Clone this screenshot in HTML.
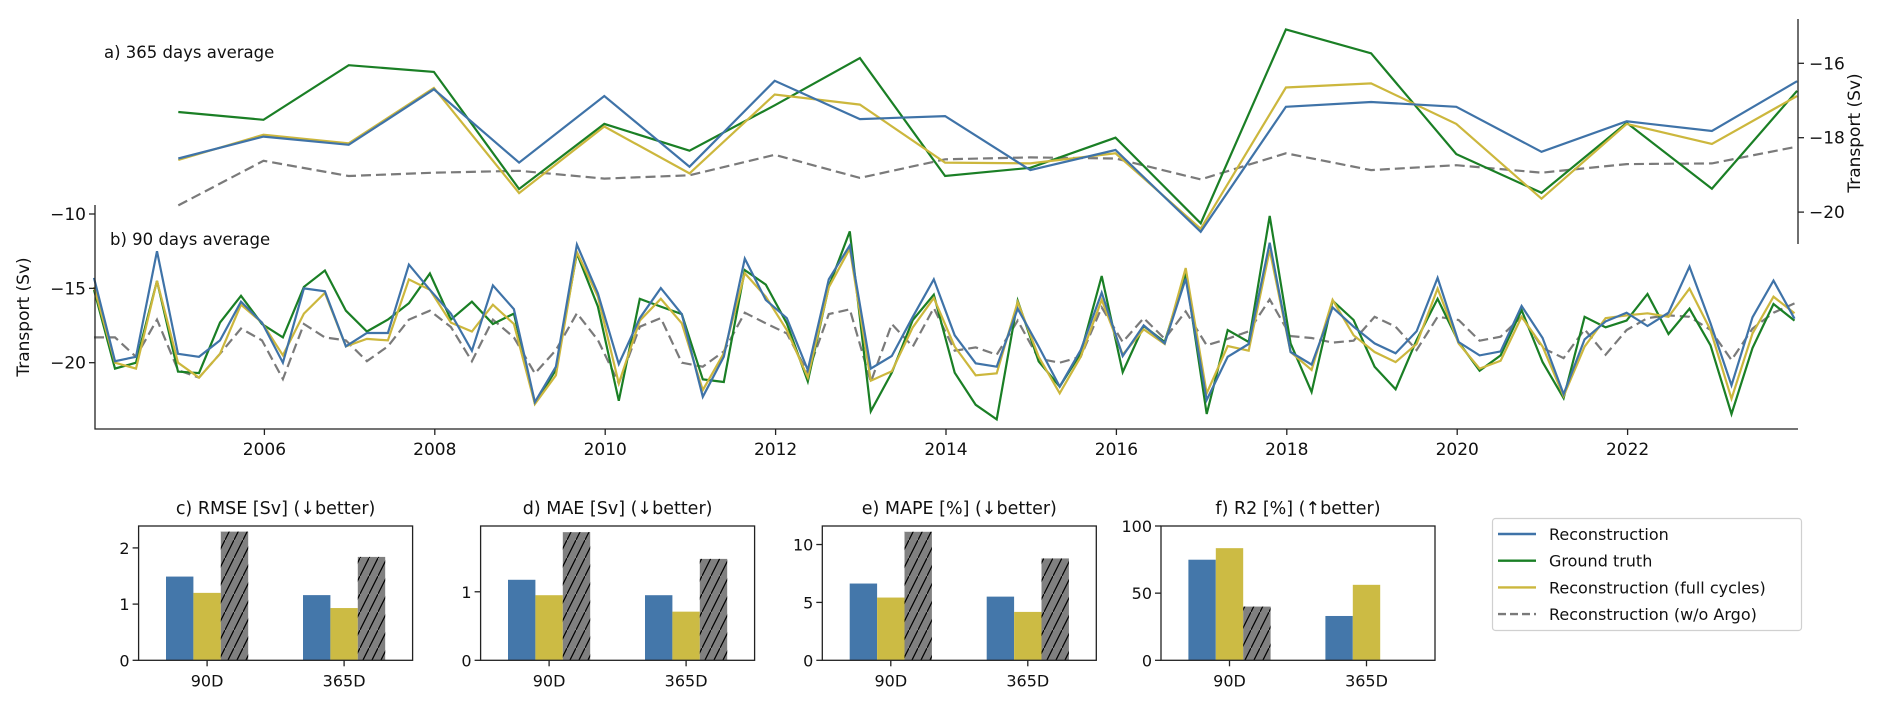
<!DOCTYPE html>
<html><head><meta charset="utf-8">
<style>
html,body{margin:0;padding:0;background:#fff;}
svg{display:block;font-family:"DejaVu Sans","Liberation Sans",sans-serif;}
</style></head>
<body>
<svg id="fig" width="1892" height="706" viewBox="0 0 1892 706" xmlns="http://www.w3.org/2000/svg">
<defs>
<pattern id="hatch" patternUnits="userSpaceOnUse" width="9" height="18">
<line x1="-1" y1="20" x2="10" y2="-2" stroke="#000" stroke-width="1.2"/>
</pattern>
</defs>
<g id="topPanel"></g>
<g id="bottomPanel"></g>
<g id="barsPanel"></g>
<g id="legendBox"></g>
</svg>
<script>
// ---- annual (365 day) series ----
const annualStart = 2004.99;
const annualGreen = [-17.31,-17.52,-16.05,-16.23,-19.38,-17.63,-18.35,-17.13,-15.86,-19.03,-18.81,-18.0,-20.3,-15.09,-15.73,-18.44,-19.48,-17.60,-19.37,-16.74];
const annualBlue = [-18.56,-17.97,-18.19,-16.70,-18.67,-16.88,-18.78,-16.47,-17.5,-17.42,-18.87,-18.33,-20.53,-17.17,-17.04,-17.17,-18.38,-17.56,-17.82,-16.48];
const annualYellow = [-18.60,-17.92,-18.15,-16.66,-19.49,-17.70,-18.96,-16.84,-17.11,-18.67,-18.69,-18.42,-20.45,-16.65,-16.54,-17.63,-19.64,-17.63,-18.17,-16.88];
const annualGray = [-19.82,-18.62,-19.03,-18.94,-18.89,-19.10,-19.01,-18.46,-19.08,-18.58,-18.53,-18.56,-19.12,-18.42,-18.87,-18.74,-18.94,-18.71,-18.69,-18.24];
const rightTicks = [-16,-18,-20];

// ---- 90 day series ----
const qStart = 2004.0;
const qStepDays = 90;
const qBlue = [-14.3,-19.9,-19.6,-12.5,-19.4,-19.6,-18.5,-15.9,-17.3,-20.0,-15.0,-15.2,-18.9,-18.0,-18.0,-13.4,-15.1,-16.7,-19.2,-14.8,-16.4,
-22.65,-20.27,-12.06,-15.34,-20.09,-17.0,-14.98,-16.73,-22.29,-19.6,-13.0,-15.78,-17.0,-20.49,-14.39,-12.11,-20.4,-19.55,-16.91,-14.39,
-18.16,-20.04,-20.27,-16.37,-18.92,-21.61,-19.15,-15.29,-19.55,-17.49,-18.70,-14.35,-22.51,-19.60,-18.74,-11.93,-19.28,-20.13,-16.28,-17.58,-18.70,
-19.37,-17.89,-14.30,-18.61,-19.51,-19.24,-16.19,-18.34,-22.11,-18.43,-17.22,-16.64,-17.53,-16.64,-13.54,-17.35,-21.52,-16.95,-14.48,-17.04];
const qGreen = [-15.1,-20.4,-20.0,-14.5,-20.6,-20.7,-17.3,-15.5,-17.4,-18.3,-14.9,-13.8,-16.5,-17.9,-17.1,-16.0,-14.0,-17.1,-15.9,-17.4,-16.7,
-22.74,-20.49,-12.65,-16.23,-22.56,-15.70,-16.23,-16.73,-21.12,-21.30,-13.77,-14.75,-17.35,-21.26,-14.89,-11.17,-23.27,-20.67,-17.13,-15.43,
-20.67,-22.83,-23.81,-15.83,-19.91,-21.61,-19.37,-14.17,-20.63,-17.53,-18.61,-13.99,-23.45,-17.80,-18.61,-10.13,-18.70,-21.97,-15.83,-17.13,-20.27,
-21.79,-18.48,-15.70,-18.61,-20.54,-19.51,-16.46,-19.96,-22.38,-16.91,-17.62,-17.17,-15.38,-18.07,-16.37,-18.83,-23.45,-19.01,-16.05,-17.17];
const qYellow = [-14.9,-20.0,-20.4,-14.5,-20.0,-21.0,-19.4,-16.1,-17.3,-19.5,-16.7,-15.3,-18.9,-18.4,-18.5,-14.4,-15.1,-17.3,-17.9,-16.1,-17.4,
-22.78,-20.85,-12.56,-15.56,-21.39,-17.17,-15.70,-17.35,-21.84,-19.37,-13.99,-15.56,-17.80,-20.99,-14.93,-12.33,-21.21,-20.58,-17.62,-15.65,
-18.92,-20.85,-20.72,-15.92,-19.60,-22.06,-19.60,-15.78,-19.46,-17.76,-18.74,-13.63,-22.06,-18.88,-19.19,-12.42,-19.28,-20.49,-15.78,-18.16,-19.28,
-19.96,-18.74,-15.02,-18.70,-20.40,-19.87,-16.91,-18.92,-22.24,-18.92,-17.0,-16.82,-16.68,-16.91,-15.02,-17.80,-22.42,-18.03,-15.56,-16.68];
const qGray = [-18.3,-18.3,-19.6,-17.1,-20.5,-21.0,-19.4,-17.7,-18.5,-21.1,-17.4,-18.3,-18.5,-19.9,-18.9,-17.1,-16.5,-17.6,-19.9,-17.1,-18.3,
-20.72,-19.15,-16.68,-18.48,-21.39,-17.58,-17.0,-20.0,-20.27,-19.24,-16.64,-17.35,-18.03,-20.67,-16.73,-16.41,-21.30,-17.40,-18.92,-16.32,
-19.19,-18.97,-19.46,-17.17,-19.73,-20.0,-19.60,-16.28,-18.61,-17.0,-18.39,-16.55,-18.83,-18.39,-17.89,-15.74,-18.21,-18.34,-18.65,-18.52,-16.91,
-17.58,-19.15,-16.91,-17.13,-18.52,-18.25,-16.91,-19.01,-19.69,-17.76,-19.46,-17.80,-17.0,-16.82,-16.91,-17.80,-19.82,-17.71,-16.64,-16.01];
const leftTicks = [-10,-15,-20];
const yearTicks = [2006,2008,2010,2012,2014,2016,2018,2020,2022];

// ---- metric bars ----
const barGroups = ["90D","365D"];
const rmseVals = {blue:[1.49,1.16], yellow:[1.20,0.93], gray:[2.29,1.84]};
const maeVals = {blue:[1.175,0.95], yellow:[0.95,0.71], gray:[1.87,1.48]};
const mapeVals = {blue:[6.63,5.5], yellow:[5.42,4.18], gray:[11.1,8.8]};
const r2Vals = {blue:[74.9,33.0], yellow:[83.5,56.2], gray:[40.0,0]};
const panelTitles = ["c) RMSE [Sv] (\u2193better)","d) MAE [Sv] (\u2193better)","e) MAPE [%] (\u2193better)","f) R2 [%] (\u2191better)"];
const panelYMax = [2.39,1.96,11.6,100];
const panelTicks = [[0,1,2],[0,1],[0,5,10],[0,50,100]];
const legendLabels = ["Reconstruction","Ground truth","Reconstruction (full cycles)","Reconstruction (w/o Argo)"];

const NS="http://www.w3.org/2000/svg";
function mk(tag, attrs, parent){const e=document.createElementNS(NS,tag);for(const k in attrs)e.setAttribute(k,attrs[k]);parent.appendChild(e);return e;}
const C={blue:"#3f73a8",green:"#1a7f25",yellow:"#ccb73d",gray:"#7a7a7a"};
const BC={blue:"#4477aa",yellow:"#ccbb44",gray:"#808080"};

const X0=94, X1=1798, T0=2004, T1=2024;
function xT(t){return X0+(t-T0)*(X1-X0)/(T1-T0);}
function yTop(v){return 63.3+(-16-v)*37.2;}
function yBot(v){return 214+(-10-v)*14.87;}

function drawLine(parent, vals, tfn, yfn, color, dashed, name){
  const pts=vals.map((v,i)=>xT(tfn(i)).toFixed(1)+","+yfn(v).toFixed(1)).join(" ");
  const p=mk('polyline',{points:pts,fill:'none',stroke:color,'stroke-width':2.2,'stroke-linejoin':'miter'},parent);
  if(dashed){p.setAttribute('stroke-dasharray','10,5');}
  
  
}

// ---- top panel ----
const topG=document.getElementById('topPanel');
const tA=i=>annualStart+i;
drawLine(topG,annualGray,tA,yTop,C.gray,true,'annual-reconstruction-wo-argo-line');
drawLine(topG,annualGreen,tA,yTop,C.green,false,'annual-ground-truth-line');
drawLine(topG,annualYellow,tA,yTop,C.yellow,false,'annual-reconstruction-full-cycles-line');
drawLine(topG,annualBlue,tA,yTop,C.blue,false,'annual-reconstruction-line');
let el=mk('line',{x1:1798,y1:19,x2:1798,y2:244,stroke:'#222','stroke-width':1.3},topG);


rightTicks.forEach(v=>{
  const y=yTop(v);
  mk('line',{x1:1798,y1:y,x2:1804,y2:y,stroke:'#222','stroke-width':1.3},topG);
  const t=mk('text',{x:1809,y:y+6,'font-size':17,fill:'#111'},topG);
  t.textContent='\u2212'+Math.abs(v);
  
  
});
el=mk('text',{x:1860,y:133,'font-size':17,fill:'#111','text-anchor':'middle',transform:'rotate(-90 1860 133)'},topG);
el.textContent='Transport (Sv)';


el=mk('text',{x:104,y:58,'font-size':16.5,fill:'#111'},topG);
el.textContent='a) 365 days average';



// ---- bottom panel ----
const botG=document.getElementById('bottomPanel');
const tQ=i=>qStart+i*qStepDays/365.25;
drawLine(botG,qGray,tQ,yBot,C.gray,true,'q-reconstruction-wo-argo-line');
drawLine(botG,qGreen,tQ,yBot,C.green,false,'q-ground-truth-line');
drawLine(botG,qYellow,tQ,yBot,C.yellow,false,'q-reconstruction-full-cycles-line');
drawLine(botG,qBlue,tQ,yBot,C.blue,false,'q-reconstruction-line');
el=mk('polyline',{points:"95,205 95,429 1798,429",fill:'none',stroke:'#222','stroke-width':1.3},botG);


leftTicks.forEach(v=>{
  const y=yBot(v);
  mk('line',{x1:89,y1:y,x2:95,y2:y,stroke:'#222','stroke-width':1.3},botG);
  const t=mk('text',{x:86,y:y+6,'font-size':17,fill:'#111','text-anchor':'end'},botG);
  t.textContent='\u2212'+Math.abs(v);
  
  
});
yearTicks.forEach(yr=>{
  const x=xT(yr);
  mk('line',{x1:x,y1:429,x2:x,y2:435,stroke:'#222','stroke-width':1.3},botG);
  const t=mk('text',{x:x,y:455,'font-size':17,fill:'#111','text-anchor':'middle'},botG);
  t.textContent=yr;
  
  
});
el=mk('text',{x:29,y:317,'font-size':17,fill:'#111','text-anchor':'middle',transform:'rotate(-90 29 317)'},botG);
el.textContent='Transport (Sv)';


el=mk('text',{x:110,y:245,'font-size':16.5,fill:'#111'},botG);
el.textContent='b) 90 days average';



// ---- bar panels ----
const barsG=document.getElementById('barsPanel');
const panelVals=[rmseVals,maeVals,mapeVals,r2Vals];
const PL=[138.6,480.6,822.3,1161], PW=274, PT=526, PB=660.3;
panelVals.forEach((vals,p)=>{
  const g=mk('g',{},barsG);
  
  
  const L=PL[p];
  const xs=v=>L+(v+0.5)*PW/2;
  const ys=v=>PB-v*(PB-PT)/panelYMax[p];
  const bw=0.2*PW/2;
  barGroups.forEach((gname,gi)=>{
    [['blue',-1],['yellow',0],['gray',1]].forEach(([k,off])=>{
      const v=vals[k][gi];
      if(v<=0) return;
      const x=xs(gi)+off*bw-bw/2, y=ys(v);
      const r=mk('rect',{x:x,y:y,width:bw,height:PB-y,fill:BC[k]},g);
      
      
      if(k==='gray'){mk('rect',{x:x,y:y,width:bw,height:PB-y,fill:'url(#hatch)'},g);}
    });
    const tx=xs(gi);
    mk('line',{x1:tx,y1:PB,x2:tx,y2:PB+6,stroke:'#222','stroke-width':1.3},g);
    const t=mk('text',{x:tx,y:PB+26,'font-size':16,fill:'#111','text-anchor':'middle'},g);
    t.textContent=gname;
    
    
  });
  mk('rect',{x:L,y:PT,width:PW,height:PB-PT,fill:'none',stroke:'#222','stroke-width':1.3},g);
  panelTicks[p].forEach(v=>{
    const y=ys(v);
    mk('line',{x1:L-6,y1:y,x2:L,y2:y,stroke:'#222','stroke-width':1.3},g);
    const t=mk('text',{x:L-9,y:y+6,'font-size':16,fill:'#111','text-anchor':'end'},g);
    t.textContent=v;
    
    
  });
  const tt=mk('text',{x:L+PW/2,y:514,'font-size':17.5,fill:'#111','text-anchor':'middle'},g);
  tt.textContent=panelTitles[p];
  
  
});

// ---- legend ----
const lg=document.getElementById('legendBox');
mk('rect',{x:1492.5,y:518.5,width:309,height:112,rx:3,fill:'#fff',stroke:'#d0d0d0','stroke-width':1.2},lg);
const legColors=[C.blue,C.green,C.yellow,C.gray];
legendLabels.forEach((lab,i)=>{
  const y=534+i*26.7;
  const ln=mk('line',{x1:1498,y1:y,x2:1536,y2:y,stroke:legColors[i],'stroke-width':2.4},lg);
  if(i===3) ln.setAttribute('stroke-dasharray','8,4');
  const t=mk('text',{x:1549,y:y+6,'font-size':16,fill:'#111'},lg);
  t.textContent=lab;
  
  
});
</script>
</body></html>
